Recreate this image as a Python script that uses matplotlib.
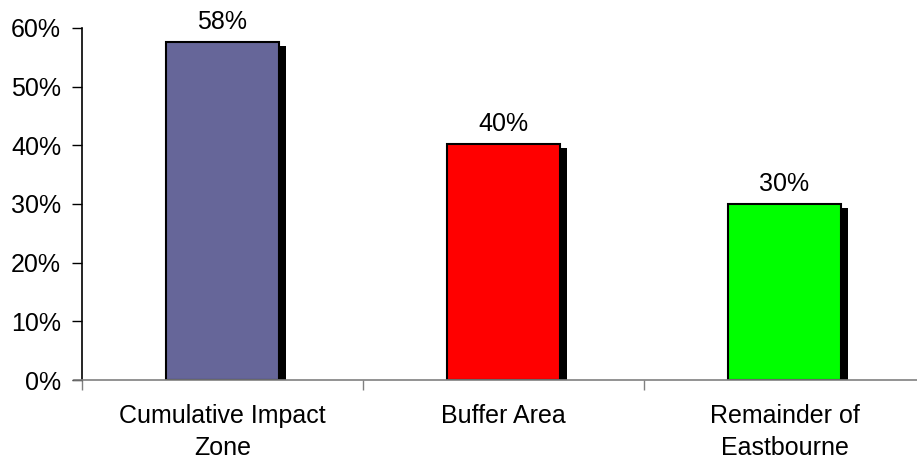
import numpy as np
import matplotlib.pyplot as plt
from matplotlib.ticker import PercentFormatter

plt.rcParams['font.family'] = ['Liberation Sans', 'DejaVu Sans']

areas = ["Cumulative Impact\nZone", "Buffer Area", "Remainder of\nEastbourne"]
shares = [0.576, 0.402, 0.300]
colours = ["#666699", "#FF0000", "#00FF00"]

fig = plt.figure(figsize=(9.17, 4.59), dpi=100)
ax = fig.add_axes([82 / 917, 79 / 459, 843 / 917, 352 / 459])

x = np.arange(len(areas))
w = 0.405
fs = 18

# drop shadow behind each bar
dx, dy = 0.022, 0.007
ax.bar(x + dx, np.array(shares) - dy, width=w, color="black", zorder=1)
ax.bar(x, shares, width=w, color=colours, edgecolor="black", linewidth=1.5, zorder=2)

for xi, v in zip(x, shares):
    ax.annotate(f"{v:.0%}", (xi, v), xytext=(0, 6), textcoords="offset points",
                ha="center", va="bottom", fontsize=fs)

ax.set_xlim(-0.5, 2.5)
ax.set_ylim(0, 0.6)
ax.yaxis.set_major_formatter(PercentFormatter(1.0, decimals=0))
ax.set_yticks(np.arange(0, 0.61, 0.1))

ax.set_xticks(x)
ax.set_xticklabels(areas, fontsize=fs, linespacing=1.45)
ax.set_xticks([-0.5, 0.5, 1.5, 2.5], minor=True)
ax.tick_params(axis="x", which="major", length=0, pad=17)
ax.tick_params(axis="x", which="minor", length=7, width=1, color="#808080")
ax.tick_params(axis="y", length=7, width=1, labelsize=fs, pad=8)

for s in ["top", "right"]:
    ax.spines[s].set_visible(False)
ax.spines["bottom"].set_color("#808080")
ax.spines["bottom"].set_linewidth(1.2)
ax.spines["left"].set_linewidth(1.2)
ax.spines["bottom"].set_bounds(-0.53, 2.5)

fig.savefig("out.png", dpi=100)
